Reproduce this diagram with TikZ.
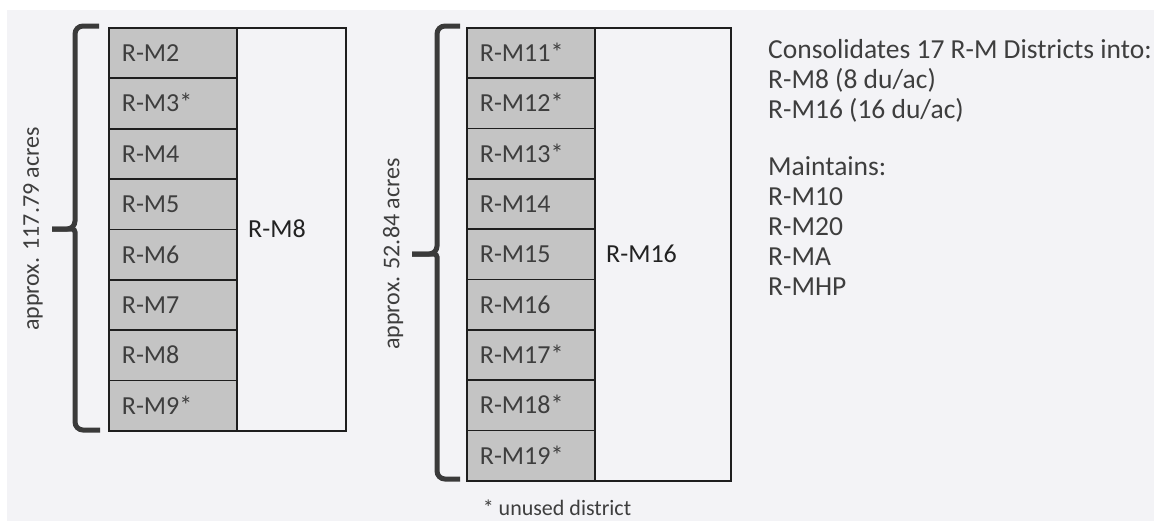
\documentclass[tikz,border=0pt]{standalone}
\usepackage{fontspec}
\setmainfont{Carlito}
\definecolor{bg}{HTML}{F3F3F6}
\definecolor{cellgray}{HTML}{C4C4C4}
\definecolor{linec}{HTML}{1E1E1E}
\definecolor{labelc}{HTML}{3E3E3E}
\definecolor{darkt}{HTML}{222222}
\definecolor{bracec}{HTML}{3A3A3A}
\begin{document}
\begin{tikzpicture}[x=1pt,y=-1pt,
  cell/.style={draw=linec, line width=1.8pt, fill=cellgray, minimum width=128pt,
    minimum height=#1, text width=102pt, inner xsep=13pt, inner ysep=0pt,
    align=left, anchor=north west, font=\fontsize{26}{30}\selectfont, text=labelc,
    text height=17pt, text depth=0pt},
  outerbox/.style={draw=linec, line width=2.2pt, anchor=north west, inner sep=0pt},
  zonelabel/.style={anchor=west, font=\fontsize{26}{30}\selectfont, text=darkt, inner sep=0pt,
    text height=17pt, text depth=0pt},
  bracepath/.style={draw=bracec, line width=5pt},
  acres/.style={rotate=90, font=\fontsize{24}{28}\selectfont, text=labelc, inner sep=0pt},
  info/.style={anchor=base west, font=\fontsize{27.5}{30}\selectfont, text=labelc, inner sep=0pt},
  note/.style={font=\fontsize{22}{26}\selectfont, text=labelc, inner sep=0pt}]
\useasboundingbox (0,0) rectangle (1154,523);
\fill[white] (0,0) rectangle (1154,523);
\fill[bg] (7,10) rectangle (1154,521);

% left block
\node[outerbox, minimum width=237pt, minimum height=403pt] (lbox) at (108,27) {};
\foreach \t [count=\i] in {R-M2,R-M3*,R-M4,R-M5,R-M6,R-M7,R-M8,R-M9*}
  \node[cell=50.375pt] (l\i) at (108,{27+(\i-1)*50.375}) {\t};
\node[zonelabel] (lzone) at (248,229) {R-M8};

% right block
\node[outerbox, minimum width=264pt, minimum height=453pt] (rbox) at (466,27) {};
\foreach \t [count=\i] in {R-M11*,R-M12*,R-M13*,R-M14,R-M15,R-M16,R-M17*,R-M18*,R-M19*}
  \node[cell=50.333pt] (r\i) at (466,{27+(\i-1)*50.333}) {\t};
\node[zonelabel] (rzone) at (606,254) {R-M16};

% braces
\coordinate (lbt) at (99,26);
\coordinate (lbm) at (52,229);
\coordinate (lbb) at (100,430);
\draw[bracepath, rounded corners=8pt] (lbt) -- (75,26) -- (75,229) [rounded corners=3pt] -- (lbm);
\draw[bracepath, rounded corners=3pt] (lbm) -- (75,229) [rounded corners=8pt] -- (75,430) -- (lbb);
\coordinate (rbt) at (460,26);
\coordinate (rbm) at (412,254);
\coordinate (rbb) at (460,479);
\draw[bracepath, rounded corners=8pt] (rbt) -- (437,26) -- (437,254) [rounded corners=3pt] -- (rbm);
\draw[bracepath, rounded corners=3pt] (rbm) -- (437,254) [rounded corners=8pt] -- (437,479) -- (rbb);

\node[acres] (lacres) at (33,229) {approx. 117.79 acres};
\node[acres] (racres) at (393,254) {approx. 52.84 acres};

\node[note] (unused) at (557,508) {* unused district};

% info text
\node[info] (i1) at (768,58) {Consolidates 17 R-M Districts into:};
\node[info] (i2) at (768,88) {R-M8 (8 du/ac)};
\node[info] (i3) at (768,118) {R-M16 (16 du/ac)};
\node[info] (i4) at (768,175) {Maintains:};
\node[info] (i5) at (768,205) {R-M10};
\node[info] (i6) at (768,235) {R-M20};
\node[info] (i7) at (768,265) {R-MA};
\node[info] (i8) at (768,295) {R-MHP};
\end{tikzpicture}
\end{document}
